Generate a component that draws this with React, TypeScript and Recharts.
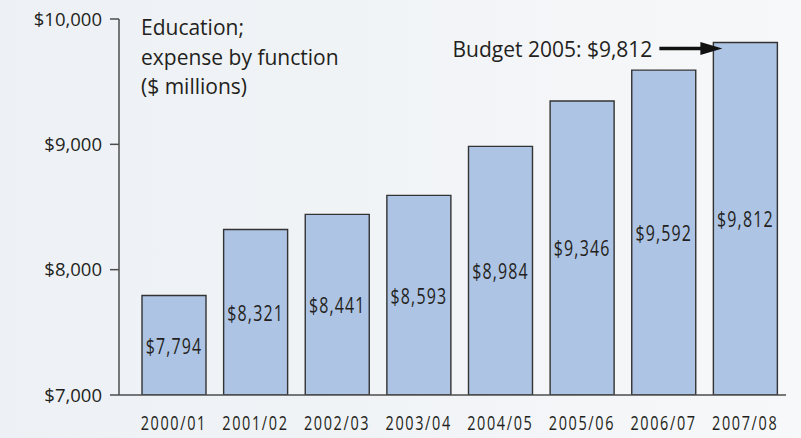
import React from 'react';
import { BarChart, Bar, XAxis, YAxis, LabelList } from 'recharts';

const years = ['2000/01', '2001/02', '2002/03', '2003/04', '2004/05', '2005/06', '2006/07', '2007/08'];
const expense = [7794, 8321, 8441, 8593, 8984, 9346, 9592, 9812];
const yTicks = [7000, 8000, 9000, 10000];
const titleLines = ['Education;', 'expense by function', '($ millions)'];
const budgetLabel = 'Budget 2005';

const data = years.map((year, i) => ({ year, value: expense[i] }));

const INK = '#231f20';
const AXIS = '#4d4d4d';
const FONT = '"Open Sans", "Noto Sans", sans-serif';

const money = (v: number) => '$' + v.toLocaleString('en-US');

const XTick = (props: any) => {
  const { x, y, payload } = props;
  return (
    <text
      transform={`translate(${x},${y + 35}) scale(0.74,1)`}
      textAnchor="middle"
      fontFamily={FONT}
      fontSize={19.5}
      letterSpacing={2.2}
      fill={INK}
    >
      {payload.value}
    </text>
  );
};

const ValueLabel = (props: any) => {
  const { x, y, width, height, value } = props;
  const cx = x + width / 2;
  const cy = y + height / 2;
  return (
    <text
      transform={`translate(${cx},${cy}) scale(0.76,1)`}
      textAnchor="middle"
      dominantBaseline="central"
      fontFamily={FONT}
      fontSize={21}
      letterSpacing={1.5}
      fill={INK}
    >
      {money(value)}
    </text>
  );
};

// arrow + note pointing at the last bar
const BudgetNote = (props: any) => {
  const { x, y, value, index } = props;
  const last = expense.length - 1;
  if (index !== last && value !== expense[last]) return null;
  const ay = y + 6;
  const tip = x + 9;
  return (
    <g>
      <line x1={x - 54} y1={ay} x2={tip - 18} y2={ay} stroke="#111" strokeWidth={3.5} />
      <polygon points={`${tip},${ay} ${tip - 22},${ay - 6.5} ${tip - 22},${ay + 6.5}`} fill="#111" />
      <text
        x={x - 61}
        y={ay}
        textAnchor="end"
        dominantBaseline="central"
        fontFamily={FONT}
        fontSize={21}
        fill={INK}
      >
        {`${budgetLabel}: ${money(value)}`}
      </text>
    </g>
  );
};

export default function App() {
  return (
    <div
      style={{
        position: 'absolute',
        left: 0,
        top: 0,
        width: 801,
        height: 438,
        background: 'linear-gradient(to right, #edf1f5 0%, #f0f3f6 40%, #f7f8fa 100%)',
      }}
    >
      <div
        style={{
          position: 'absolute',
          left: 141,
          top: 13,
          fontFamily: FONT,
          fontSize: 21,
          lineHeight: '29.5px',
          color: INK,
          whiteSpace: 'nowrap',
        }}
      >
        {titleLines.map((t) => (
          <div key={t}>{t}</div>
        ))}
      </div>
      <BarChart
        width={801}
        height={438}
        data={data}
        margin={{ top: 19, right: 15, bottom: 8, left: 0 }}
        style={{ position: 'absolute', left: 0, top: 0 }}
      >
        <XAxis
          dataKey="year"
          height={35}
          padding={{ left: 14, right: 0 }}
          axisLine={{ stroke: AXIS, strokeWidth: 1.5 }}
          tickLine={false}
          tickSize={0}
          tickMargin={0}
          tick={<XTick />}
          interval={0}
        />
        <YAxis
          width={119}
          domain={[7000, 10000]}
          ticks={yTicks}
          allowDataOverflow
          tickFormatter={money}
          axisLine={{ stroke: AXIS, strokeWidth: 1.5 }}
          tickLine={{ stroke: AXIS, strokeWidth: 1.5 }}
          tickSize={9}
          tickMargin={8}
          tick={{ fill: INK, fontSize: 18.5, fontFamily: FONT }}
        />
        <Bar
          dataKey="value"
          fill="#aec4e4"
          stroke="#333333"
          strokeWidth={1.4}
          barSize={64}
          isAnimationActive={false}
        >
          <LabelList dataKey="value" content={<ValueLabel />} />
          <LabelList dataKey="value" content={<BudgetNote />} />
        </Bar>
      </BarChart>
    </div>
  );
}
